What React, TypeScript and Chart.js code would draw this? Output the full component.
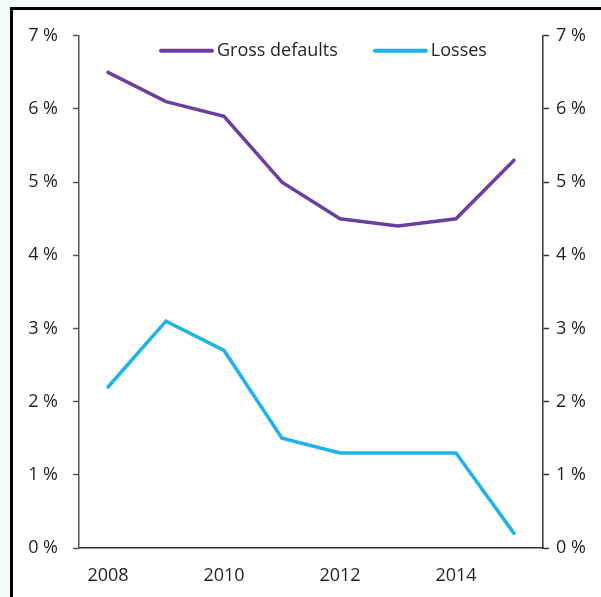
import React, { useEffect, useRef } from "react";
import { Chart, registerables } from "chart.js";

Chart.register(...registerables);

const years = ["2008", "2009", "2010", "2011", "2012", "2013", "2014", "2015"];
const grossDefaults = [6.5, 6.1, 5.9, 5.0, 4.5, 4.4, 4.5, 5.3];
const losses = [2.2, 3.1, 2.7, 1.5, 1.3, 1.3, 1.3, 0.2];
const yTicks = [0, 1, 2, 3, 4, 5, 6, 7];
const seriesNames = ["Gross defaults", "Losses"];
const seriesColors = ["#6b3fa0", "#1fb3e6"];

const FONT = "'Open Sans', 'DejaVu Sans', sans-serif";
const TEXT = "#231f20";

const legendPlugin = {
  id: "insideLegend",
  afterDatasetsDraw(chart: any) {
    const ctx = chart.ctx;
    const area = chart.chartArea;
    ctx.save();
    ctx.font = `18px ${FONT}`;
    ctx.textBaseline = "middle";
    const lineLen = 51;
    const gapText = 5;
    const gapItem = 37;
    let x = area.left + 82;
    const y = area.top + 15;
    chart.data.datasets.forEach((ds: any) => {
      ctx.strokeStyle = ds.borderColor;
      ctx.lineWidth = 4;
      ctx.lineCap = "round";
      ctx.beginPath();
      ctx.moveTo(x, y);
      ctx.lineTo(x + lineLen, y);
      ctx.stroke();
      x += lineLen + gapText;
      ctx.fillStyle = TEXT;
      ctx.fillText(ds.label, x, y);
      x += ctx.measureText(ds.label).width + gapItem;
    });
    ctx.restore();
  },
};

export default function App() {
  const ref = useRef<HTMLCanvasElement | null>(null);

  useEffect(() => {
    document.body.style.margin = "0";
    const canvas = ref.current!;
    const yAxis = (position: string, width: number, padding: number, borderColor: string) => ({
      type: "linear",
      position,
      min: 0,
      max: 7,
      afterFit: (s: any) => {
        s.width = width;
      },
      afterBuildTicks: (s: any) => {
        s.ticks = yTicks.map((v) => ({ value: v }));
      },
      border: { display: true, color: borderColor, width: 1.5 },
      grid: {
        display: true,
        drawOnChartArea: false,
        drawTicks: true,
        tickLength: 6,
        tickWidth: 1.5,
        tickColor: borderColor,
      },
      ticks: {
        padding: padding,
        color: TEXT,
        font: { family: FONT, size: 18 },
        callback: (v: any) => `${v} %`,
      },
    });

    const chart = new Chart(canvas, {
      type: "line",
      data: {
        labels: years,
        datasets: [
          {
            label: seriesNames[0],
            data: grossDefaults,
            borderColor: seriesColors[0],
            backgroundColor: seriesColors[0],
            borderWidth: 3.5,
            pointRadius: 0,
            tension: 0,
            borderCapStyle: "round",
            borderJoinStyle: "miter",
            yAxisID: "y",
          },
          {
            label: seriesNames[1],
            data: losses,
            borderColor: seriesColors[1],
            backgroundColor: seriesColors[1],
            borderWidth: 3.5,
            pointRadius: 0,
            tension: 0,
            borderCapStyle: "round",
            borderJoinStyle: "miter",
            yAxisID: "y",
          },
        ],
      },
      options: {
        animation: false,
        responsive: false,
        maintainAspectRatio: false,
        layout: { padding: { top: 24, left: 0, right: 0, bottom: 0 } },
        plugins: {
          legend: { display: false },
          tooltip: { enabled: false },
        },
        scales: {
          x: {
            type: "category",
            offset: true,
            afterFit: (s: any) => {
              s.height = 49;
            },
            border: { display: true, color: "#333", width: 1.5 },
            grid: { display: true, drawOnChartArea: false, drawTicks: false, tickLength: 0 },
            ticks: {
              autoSkip: false,
              maxRotation: 0,
              padding: 17,
              color: TEXT,
              font: { family: FONT, size: 18 },
              callback: (_v: any, i: number) => (i % 2 === 0 ? years[i] : ""),
            },
          },
          y: yAxis("left", 66, 15, "#555"),
          y2: yAxis("right", 58, 7, "#333"),
        } as any,
      },
      plugins: [legendPlugin],
    } as any);
    return () => chart.destroy();
  }, []);

  return (
    <div style={{ position: "fixed", inset: 0, background: "#f4f9fa", overflow: "hidden" }}>
      <div
        style={{
          position: "absolute",
          left: 10,
          top: 7,
          width: 700,
          height: 700,
          background: "#fff",
          borderLeft: "3px solid #000",
          borderTop: "3px solid #000",
        }}
      >
        <canvas ref={ref} width={588} height={587} style={{ display: "block", width: 588, height: 587 }} />
      </div>
    </div>
  );
}
